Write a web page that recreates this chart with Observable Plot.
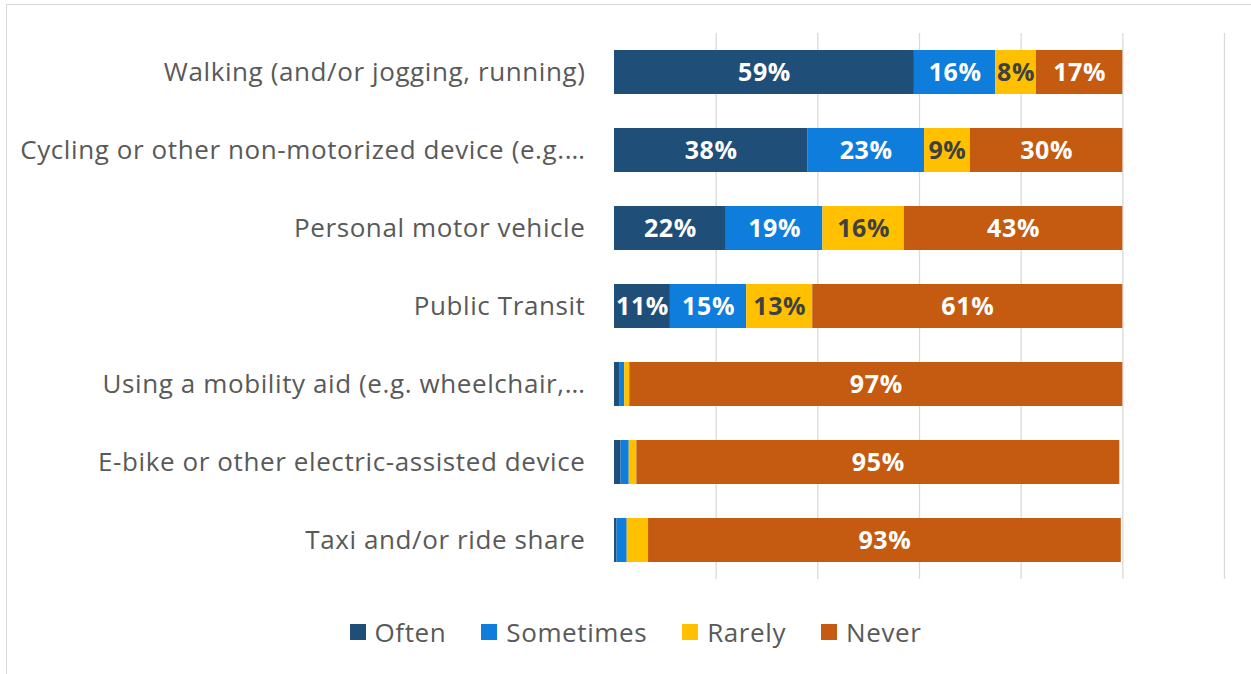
<!DOCTYPE html>
<html>
<head>
<meta charset="utf-8">
<script src="https://cdn.jsdelivr.net/npm/d3@7"></script>
<script src="https://cdn.jsdelivr.net/npm/@observablehq/plot@0.6"></script>
<style>
  html, body { margin: 0; padding: 0; background: #fff; overflow: hidden; }
  #wrap { position: relative; width: 1251px; height: 674px; }
  #frame { position: absolute; left: 6px; top: 4px; width: 1300px; height: 700px; border: 1.5px solid #d9d9d9; pointer-events: none; }
  #legend { position: absolute; top: 614px; left: 10px; width: 1251px; display: flex; justify-content: center; gap: 35px; font-family: "Open Sans", sans-serif; font-size: 26px; letter-spacing: 0.6px; color: #595959; }
  #legend .item { display: flex; align-items: center; gap: 9px; }
  #legend .sw { width: 16px; height: 16px; display: inline-block; }
  svg text { letter-spacing: 0.6px; }
</style>
</head>
<body>
<div id="wrap">
  <div id="chart"></div>
  <div id="legend"></div>
  <div id="frame"></div>
</div>
<script>
const categories = [
  "Walking (and/or jogging, running)",
  "Cycling or other non-motorized device (e.g.…",
  "Personal motor vehicle",
  "Public Transit",
  "Using a mobility aid (e.g. wheelchair,…",
  "E-bike or other electric-assisted device",
  "Taxi and/or ride share"
];
const seriesNames = ["Often", "Sometimes", "Rarely", "Never"];
const often     = [59, 38, 22, 11, 1, 1.3, 0.5];
const sometimes = [16, 23, 19, 15, 1, 1.6, 2];
const rarely    = [8, 9, 16, 13, 1, 1.5, 4.2];
const never     = [17, 30, 43, 61, 97, 95, 93];
const colors = ["#1f4e79", "#0f7ddb", "#ffc000", "#c55a11"];
const labelColors = ["#ffffff", "#ffffff", "#404040", "#ffffff"];
const gridTicks = [20, 40, 60, 80, 100, 120];

const seriesValues = [often, sometimes, rarely, never];
const data = [];
categories.forEach((c, i) => {
  seriesNames.forEach((s, j) => {
    data.push({cat: c, series: s, value: seriesValues[j][i]});
  });
});

const plot = Plot.plot({
  width: 1251,
  height: 600,
  marginLeft: 614,
  marginRight: 27,
  marginTop: 33,
  marginBottom: 21,
  style: {fontFamily: "'Open Sans', sans-serif", background: "transparent"},
  x: {domain: [0, 120], axis: null},
  y: {domain: categories, paddingInner: 0.436, paddingOuter: 0.218, label: null},
  color: {domain: seriesNames, range: colors},
  marks: [
    Plot.ruleX(gridTicks, {stroke: "#d9d9d9", strokeWidth: 1.3}),
    Plot.barX(data, Plot.stackX({x: "value", y: "cat", fill: "series", order: seriesNames})),
    Plot.textX(data, Plot.stackX({
      x: "value", y: "cat", order: seriesNames,
      text: d => d.value >= 5 ? Math.round(d.value) + "%" : "",
      fill: d => labelColors[seriesNames.indexOf(d.series)],
      fontSize: 25, fontWeight: "bold"
    })),
    Plot.axisY({tickSize: 0, tickPadding: 29, fontSize: 26, fill: "#595959", label: null})
  ]
});
document.getElementById("chart").appendChild(plot);

const legend = document.getElementById("legend");
seriesNames.forEach((s, j) => {
  const item = document.createElement("div");
  item.className = "item";
  const sw = document.createElement("span");
  sw.className = "sw";
  sw.style.background = colors[j];
  const t = document.createElement("span");
  t.textContent = s;
  item.appendChild(sw);
  item.appendChild(t);
  legend.appendChild(item);
});
</script>
</body>
</html>
